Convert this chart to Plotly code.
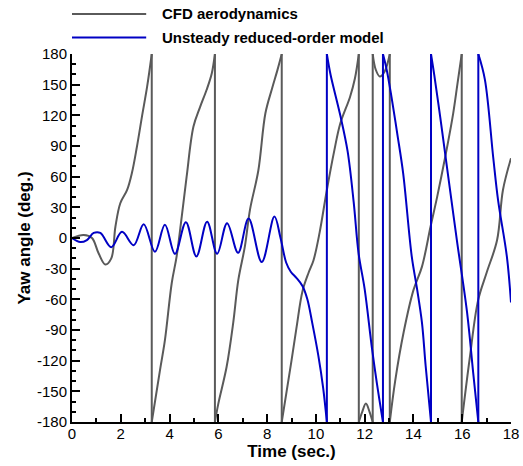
import plotly.graph_objects as go

# ---------------- data ----------------
# CFD aerodynamics yaw angle (deg), wraps at +/-180 are given as two points at the same time
cfd_t = [0, 0.48, 0.82, 1.09, 1.37, 1.61, 1.78, 1.98, 2.26, 2.46, 2.66, 2.87, 3.08, 3.27,
         3.27, 3.61, 3.81, 4.09, 4.29, 4.5, 4.7, 4.98, 5.25, 5.52, 5.73, 5.86,
         5.86, 6.0, 6.34, 6.61, 6.82, 7.09, 7.3, 7.64, 7.93, 8.2, 8.42, 8.6,
         8.6, 8.8, 9.0, 9.21, 9.45, 9.7, 9.9, 10.15, 10.45, 10.75, 11.0, 11.4, 11.6, 11.76,
         11.76, 11.9, 12.05, 12.2, 12.33,
         12.33, 12.45, 12.62, 12.82, 13.03,
         13.03, 13.25, 13.6, 14.0, 14.35, 14.7, 14.97, 15.3, 15.63, 15.8, 15.98,
         15.98, 16.3, 16.65, 17.0, 17.43, 17.67, 18.0]
cfd_y = [0, 3, 0, -15, -26, -20, 11, 34, 47, 64, 89, 119, 148, 180,
         -180, -129, -100, -44, -18, 21, 60, 109, 128, 145, 161, 180,
         -180, -162, -126, -83, -41, -8, 28, 66, 122, 146, 164, 180,
         -180, -150, -120, -87, -52, -34, -22, 5, 47, 85, 112, 138, 156, 180,
         -180, -170, -162, -170, -180,
         180, 165, 158, 163, 180,
         -180, -140, -92, -51, -28, 11, 40, 79, 122, 150, 180,
         -180, -119, -61, -34, -2, 47, 78]

# Unsteady reduced-order model yaw angle (deg)
rom_t = [0, 0.34, 0.61, 0.89, 1.16, 1.61, 2.05, 2.53, 2.94, 3.4, 3.81, 4.22, 4.67, 5.1, 5.54,
         5.95, 6.36, 6.81, 7.24, 7.78, 8.3, 8.55, 8.78, 8.97, 9.2, 9.45, 9.65, 9.85, 10.1,
         10.3, 10.45,
         10.45, 10.6, 11.0, 11.3, 11.55, 11.75, 12.0, 12.3, 12.5, 12.75,
         12.75, 12.9, 13.1, 13.35, 13.58, 13.93, 14.15, 14.35, 14.5, 14.72,
         14.72, 14.85, 15.1, 15.37, 15.78, 16.2, 16.45, 16.66,
         16.66, 16.93, 17.27, 17.47, 17.83, 18.0]
rom_y = [0, -4, -2, 5, 5, -9, 6, -7, 13.5, -13.5, 13, -15.5, 15.5, -18, 16,
         -15.5, 14.5, -14.5, 19, -23.5, 21, 0, -24, -33, -39, -47, -60, -83, -115,
         -147, -180,
         180, 160, 120, 85, 35, -15, -50, -108, -142, -180,
         180, 165, 138, 100, 63, -18, -50, -83, -125, -180,
         180, 160, 118, 70, -2, -73, -132, -180,
         180, 155, 79, 37, -18, -63]

series_names = ["CFD aerodynamics", "Unsteady reduced-order model"]
series_colors = ["#5a5a5a", "#0000c4"]

x_ticks = list(range(0, 19, 2))
y_ticks = list(range(-180, 181, 30))


def split(t, y):
    """Smooth pieces between wrap-arounds, plus the vertical wrap connectors."""
    st, sy, jt, jy = [], [], [], []
    for i in range(len(t)):
        if i > 0 and abs(y[i] - y[i - 1]) >= 300:
            st.append(None); sy.append(None)
            jt += [t[i - 1], t[i], None]
            jy += [y[i - 1], y[i], None]
        st.append(t[i]); sy.append(y[i])
    return st, sy, jt, jy


fig = go.Figure()
for (t, y), name, col in zip([(cfd_t, cfd_y), (rom_t, rom_y)], series_names, series_colors):
    st, sy, jt, jy = split(t, y)
    fig.add_trace(go.Scatter(x=st, y=sy, mode="lines", name=name, connectgaps=False,
                             line=dict(color=col, width=2, shape="spline", smoothing=1.0),
                             showlegend=False))
    fig.add_trace(go.Scatter(x=jt, y=jy, mode="lines", name=name, connectgaps=False,
                             line=dict(color=col, width=2), showlegend=False, hoverinfo="skip"))

# legend drawn above the plot area (long line samples as in the reference)
leg_y = [1.109, 1.045]
for name, col, ly in zip(series_names, series_colors, leg_y):
    fig.add_shape(type="line", xref="paper", yref="paper", x0=0.0, x1=0.169, y0=ly, y1=ly,
                  line=dict(color=col, width=2))
    fig.add_annotation(xref="paper", yref="paper", x=0.2, y=ly, text="<b>%s</b>" % name,
                       showarrow=False, xanchor="left", yanchor="middle",
                       font=dict(size=15, color="black", family="Liberation Sans, Arial"))

axis_common = dict(showline=True, linecolor="black", linewidth=2, mirror=False,
                   ticks="inside", tickcolor="black", tickwidth=2, ticklen=8,
                   showgrid=False, zeroline=False, automargin=False,
                   tickfont=dict(size=15, color="black", family="Liberation Sans, Arial"))

fig.update_xaxes(range=[0, 18], tickvals=x_ticks, ticktext=[str(v) for v in x_ticks],
                 ticklabelstandoff=-3,
                 minor=dict(dtick=1, ticks="inside", ticklen=4, tickwidth=1.5, tickcolor="black"),
                 title=dict(text="<b>Time (sec.)</b>", standoff=4,
                            font=dict(size=17, color="black", family="Liberation Sans, Arial")),
                 **axis_common)
fig.update_yaxes(range=[-180, 180], tickvals=y_ticks, ticktext=[str(v) for v in y_ticks],
                 minor=dict(dtick=10, ticks="inside", ticklen=4, tickwidth=1.5, tickcolor="black"),
                 title=dict(text="<b>Yaw angle (deg.)</b>", standoff=2,
                            font=dict(size=17, color="black", family="Liberation Sans, Arial")),
                 **axis_common)

fig.update_layout(width=523, height=466, margin=dict(l=72, r=12, t=54, b=44),
                  plot_bgcolor="white", paper_bgcolor="white", showlegend=False)

# remove the browser's default 8px body margin so the figure fills the window exactly
fig.write_html("out.html", config={"displayModeBar": False},
               post_script="document.body.style.margin='0';")
